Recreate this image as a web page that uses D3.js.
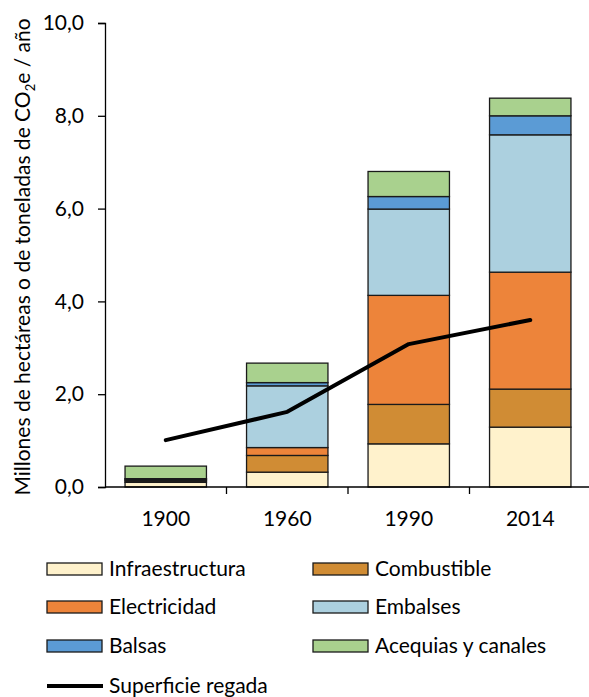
<!DOCTYPE html>
<html lang="es">
<head>
<meta charset="utf-8">
<title>Emisiones del regadío</title>
<script src="https://d3js.org/d3.v7.min.js"></script>
<style>
  body { margin: 0; background: #fff; font-family: Lato, "Open Sans", sans-serif; }
  svg text { fill: #000; }
</style>
</head>
<body>
<svg id="chart" width="589" height="697"></svg>
<script>
const years = ["1900", "1960", "1990", "2014"];
const seriesNames = ["Infraestructura", "Combustible", "Electricidad", "Embalses", "Balsas", "Acequias y canales"];
const seriesColors = ["#fff2cc", "#d08c34", "#ed843a", "#acd0df", "#5b9bd5", "#a9d18e"];
const infraestructura = [0.10, 0.32, 0.93, 1.29];
const combustible = [0.03, 0.36, 0.85, 0.82];
const electricidad = [0.02, 0.17, 2.35, 2.52];
const embalses = [0.02, 1.33, 1.86, 2.96];
const balsas = [0.01, 0.07, 0.27, 0.41];
const acequias = [0.27, 0.42, 0.54, 0.38];
const superficie = [1.01, 1.62, 3.08, 3.60];
const yTicks = [0, 2, 4, 6, 8, 10];
const lineName = "Superficie regada";

const FS = 21;
const svg = d3.select("#chart");
const margin = { left: 105, right: 0, top: 23, bottom: 210 };
const plotW = 591 - margin.left, plotH = 487 - margin.top;

const rows = years.map((y, i) => ({
  year: y,
  "Infraestructura": infraestructura[i],
  "Combustible": combustible[i],
  "Electricidad": electricidad[i],
  "Embalses": embalses[i],
  "Balsas": balsas[i],
  "Acequias y canales": acequias[i]
}));
const stacked = d3.stack().keys(seriesNames)(rows);

const x = d3.scaleBand().domain(years).range([0, plotW]).paddingInner(0.33).paddingOuter(0.165);
const y = d3.scaleLinear().domain([0, 10]).range([plotH, 0]);
const color = d3.scaleOrdinal().domain(seriesNames).range(seriesColors);

const g = svg.append("g").attr("transform", `translate(${margin.left},${margin.top})`);

// bars
g.selectAll("g.layer")
  .data(stacked)
  .join("g")
  .attr("class", "layer")
  .attr("fill", d => color(d.key))
  .selectAll("rect")
  .data(d => d)
  .join("rect")
  .attr("x", d => x(d.data.year))
  .attr("width", x.bandwidth())
  .attr("y", d => y(d[1]))
  .attr("height", d => y(d[0]) - y(d[1]))
  .attr("stroke", "#1a1a1a")
  .attr("stroke-width", 1.3);

// line
const line = d3.line()
  .x((d, i) => x(years[i]) + x.bandwidth() / 2)
  .y(d => y(d));
g.append("path")
  .datum(superficie)
  .attr("d", line)
  .attr("fill", "none")
  .attr("stroke", "#000")
  .attr("stroke-width", 4)
  .attr("stroke-linecap", "round")
  .attr("stroke-linejoin", "round");

// axes
const yAxis = g.append("g")
  .call(d3.axisLeft(y).tickValues(yTicks).tickSize(7).tickPadding(14)
    .tickFormat(d => d3.format(".1f")(d).replace(".", ",")));
yAxis.selectAll("text").attr("font-size", FS).attr("font-family", "Lato, sans-serif");
yAxis.selectAll("line,path").attr("stroke", "#000").attr("stroke-width", 1.3);

const xAxis = g.append("g")
  .attr("transform", `translate(0,${plotH})`)
  .call(d3.axisBottom(x).tickSize(0).tickPadding(24));
xAxis.selectAll("text").attr("font-size", FS).attr("font-family", "Lato, sans-serif");
xAxis.select("path").attr("stroke", "#000").attr("stroke-width", 1.3).attr("d", `M0,0H${plotW}`);
// category separators
xAxis.selectAll("line.sep")
  .data(years.slice(1))
  .join("line")
  .attr("class", "sep")
  .attr("x1", d => x(d) - x.step() * x.paddingInner() / 2)
  .attr("x2", d => x(d) - x.step() * x.paddingInner() / 2)
  .attr("y1", 0).attr("y2", 7)
  .attr("stroke", "#000").attr("stroke-width", 1.3);

// y title
const title = svg.append("text")
  .attr("transform", `translate(30,${margin.top + plotH / 2 + 2}) rotate(-90)`)
  .attr("text-anchor", "middle")
  .attr("font-size", FS)
  .attr("font-family", "Lato, sans-serif");
title.append("tspan").text("Millones de hectáreas o de toneladas de CO");
title.append("tspan").attr("font-size", 13).attr("dy", 5).text("2");
title.append("tspan").attr("dy", -5).text("e / año");

// legend
const legendItems = seriesNames.map((n, i) => ({ name: n, col: i % 2, row: Math.floor(i / 2) }));
const lg = svg.append("g");
const colX = [47, 313], rowY = [569, 607, 646, 686];
legendItems.forEach(d => {
  lg.append("rect")
    .attr("x", colX[d.col]).attr("y", rowY[d.row] - 6)
    .attr("width", 55).attr("height", 12)
    .attr("fill", color(d.name))
    .attr("stroke", "#1a1a1a").attr("stroke-width", 1.3);
  lg.append("text")
    .attr("x", colX[d.col] + 62).attr("y", rowY[d.row])
    .attr("dy", "0.35em")
    .attr("font-size", FS).attr("font-family", "Lato, sans-serif")
    .text(d.name);
});
lg.append("line")
  .attr("x1", colX[0]).attr("x2", colX[0] + 56)
  .attr("y1", rowY[3]).attr("y2", rowY[3])
  .attr("stroke", "#000").attr("stroke-width", 4);
lg.append("text")
  .attr("x", colX[0] + 62).attr("y", rowY[3])
  .attr("dy", "0.35em")
  .attr("font-size", FS).attr("font-family", "Lato, sans-serif")
  .text(lineName);
</script>
</body>
</html>
